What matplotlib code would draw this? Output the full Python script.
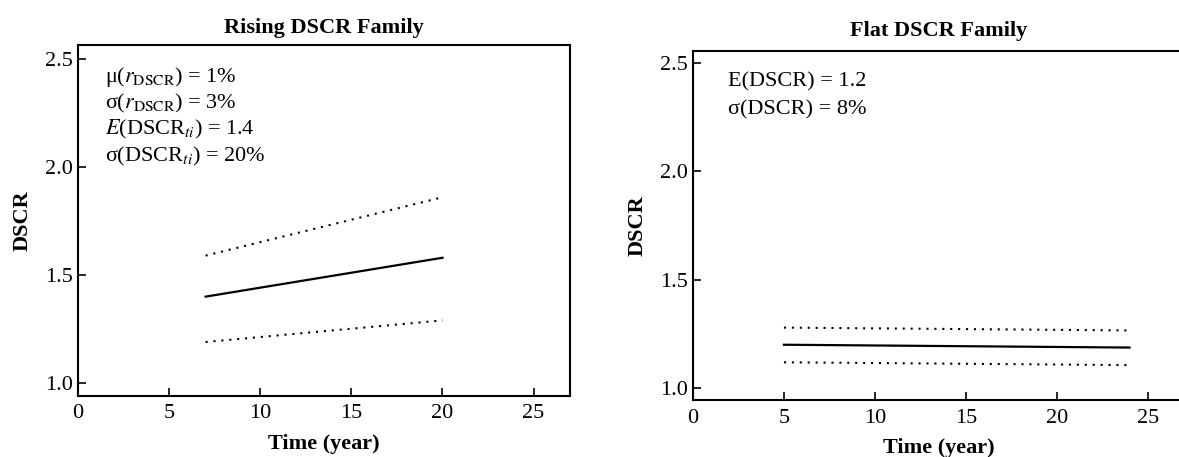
import matplotlib
matplotlib.use('Agg')
from matplotlib import pyplot as plt

plt.rcParams['font.family'] = ['Liberation Serif', 'DejaVu Serif']
plt.rcParams['mathtext.fontset'] = 'stix'

# rising family (left)
rise_years = [7, 20]
rise_mean = [1.40, 1.58]
rise_upper = [1.59, 1.86]
rise_lower = [1.19, 1.29]

# flat family (right)
flat_years = [5, 24]
flat_mean = [1.20, 1.187]
flat_upper = [1.279, 1.266]
flat_lower = [1.119, 1.106]

xticks = [0, 5, 10, 15, 20, 25]
yticks = [1.0, 1.5, 2.0, 2.5]

rise_notes = ['μ($r_{\\mathrm{DSCR}}$) = 1%',
              'σ($r_{\\mathrm{DSCR}}$) = 3%',
              '$E$(DSCR$_{ti}$) = 1.4',
              'σ(DSCR$_{ti}$) = 20%']
flat_notes = ['E(DSCR) = 1.2',
              'σ(DSCR) = 8%']

DOT = (0, (1, 2.8))
FS = 16


def style_ax(ax, ylim, title, tpad, xpad, lpad):
    ax.set_xlim(0, 27)
    ax.set_ylim(*ylim)
    ax.set_xticks(xticks)
    ax.set_yticks(yticks)
    ax.set_yticklabels(['%.1f' % v for v in yticks])
    ax.tick_params(direction='in', length=5.5, width=1.2, labelsize=FS)
    ax.tick_params(axis='x', pad=xpad)
    ax.tick_params(axis='y', pad=3.5)
    for s in ax.spines.values():
        s.set_linewidth(1.5)
    ax.set_xlabel('Time (year)', fontsize=FS, fontweight='bold', labelpad=lpad)
    ax.set_ylabel('DSCR', fontsize=FS, fontweight='bold', labelpad=9)
    ax.set_title(title, fontsize=FS, fontweight='bold', pad=tpad)


def draw(ax, years, mean, upper, lower):
    ax.plot(years, mean, color='black', lw=1.6)
    ax.plot(years, upper, color='black', lw=1.5, ls=DOT)
    ax.plot(years, lower, color='black', lw=1.5, ls=DOT)


fig = plt.figure(figsize=(11.79, 4.57), dpi=100)

ax1 = fig.add_axes([0.0662, 0.1335, 0.4173, 0.768])
draw(ax1, rise_years, rise_mean, rise_upper, rise_lower)
style_ax(ax1, (0.94, 2.565), 'Rising DSCR Family', 9, 6, 8)
for i, note in enumerate(rise_notes):
    ax1.text(0.055, 0.895 - i * 0.0755, note, transform=ax1.transAxes,
             va='baseline', ha='left', fontsize=FS)

ax2 = fig.add_axes([0.5878, 0.1247, 0.4165, 0.7637])
draw(ax2, flat_years, flat_mean, flat_upper, flat_lower)
style_ax(ax2, (0.945, 2.555), 'Flat DSCR Family', 11, 6.5, 7)
ax2.spines['right'].set_visible(False)
for i, note in enumerate(flat_notes):
    ax2.text(0.071, 0.897 - i * 0.078, note, transform=ax2.transAxes,
             va='baseline', ha='left', fontsize=FS)

fig.savefig('out.png', dpi=100)
